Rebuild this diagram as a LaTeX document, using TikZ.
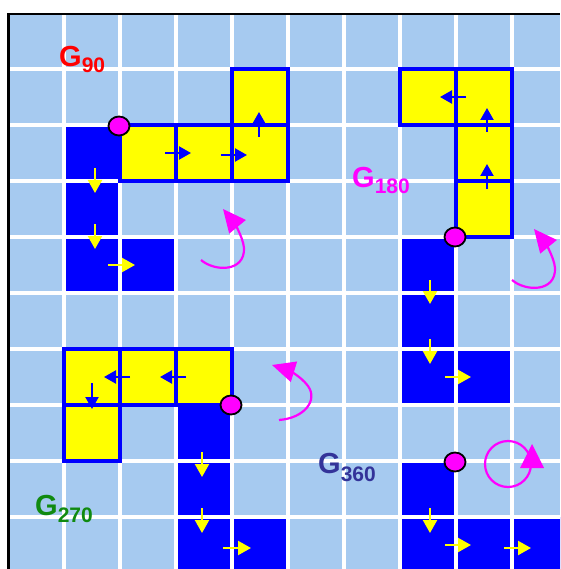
\documentclass[tikz,border=0pt]{standalone}
\usepackage{fontspec}
\setmainfont{Liberation Sans}
\usetikzlibrary{arrows.meta,shapes.geometric}
\definecolor{lightcell}{HTML}{A6CAF0}
\definecolor{cellblue}{HTML}{0000FF}
\definecolor{cellyellow}{HTML}{FFFF00}
\definecolor{mag}{HTML}{FF00FF}
\definecolor{gred}{HTML}{FF0000}
\definecolor{ggreen}{HTML}{108A10}
\definecolor{gslate}{HTML}{333399}
\tikzset{
  gridline/.style={draw=white, line width=3.2pt},
  ycell/.style={fill=cellyellow, draw=cellblue, line width=3.4pt},
  yarr/.style={draw=cellyellow, line width=2.2pt, -{Triangle[length=13pt,width=14pt]}},
  barr/.style={draw=cellblue, line width=2.2pt, -{Triangle[length=12pt,width=13pt]}},
  rotarr/.style={draw=mag, line width=2.2pt, -{Triangle[length=23pt,width=21pt]}},
  dot/.style={ellipse, fill=mag, draw=black, line width=1.8pt, minimum width=21pt, minimum height=19pt, inner sep=0pt},
  glabel/.style={anchor=base west, inner sep=0pt, font=\bfseries},
}
\newcommand{\Glab}[2]{{\fontsize{29}{29}\selectfont G}\raisebox{-#2pt}{\fontsize{21}{21}\selectfont #1}}
\begin{document}
\begin{tikzpicture}[x=1pt,y=-1pt]
\useasboundingbox (0,0) rectangle (560,569);
\begin{scope}
\clip (0,0) rectangle (560,569);
\fill[white] (0,0) rectangle (560,569);
\fill[lightcell] (8,13) rectangle (560,569);
% blue cells
\foreach \c/\r in {1/2,1/3,1/4,2/4, 7/4,7/5,7/6,8/6, 3/7,3/8,3/9,4/9, 7/8,7/9,8/9,9/9}
  \fill[cellblue] ({8+56*\c},{13+56*\r}) rectangle ++(56,56);
% grid lines
\foreach \k in {0,...,8} {
  \draw[gridline] ({64+56*\k},13) -- ({64+56*\k},569);
  \draw[gridline] (8,{69+56*\k}) -- (560,{69+56*\k});
}
% yellow cells
\foreach \c/\r in {2/2,3/2,4/2,4/1, 7/1,8/1,8/2,8/3, 1/6,2/6,3/6,1/7}
  \filldraw[ycell] ({8+56*\c},{13+56*\r}) rectangle ++(56,56);
% black frame
\draw[black, line width=2.8pt] (8.7,569) -- (8.7,14) -- (560,14);
\end{scope}

% yellow arrows (blue cells)
\coordinate (a1s) at (95,168);  \coordinate (a1e) at (95,193);
\coordinate (a2s) at (95,224);  \coordinate (a2e) at (95,249);
\coordinate (a3s) at (108,265); \coordinate (a3e) at (135,265);
\coordinate (a4s) at (430,280); \coordinate (a4e) at (430,304);
\coordinate (a5s) at (430,339); \coordinate (a5e) at (430,364);
\coordinate (a6s) at (445,377); \coordinate (a6e) at (471,377);
\coordinate (a7s) at (202,452); \coordinate (a7e) at (202,477);
\coordinate (a8s) at (202,508); \coordinate (a8e) at (202,533);
\coordinate (a9s) at (223,548); \coordinate (a9e) at (251,548);
\coordinate (a10s) at (430,508); \coordinate (a10e) at (430,533);
\coordinate (a11s) at (445,545); \coordinate (a11e) at (471,545);
\coordinate (a12s) at (504,548); \coordinate (a12e) at (531,548);
\foreach \i in {1,...,12} \draw[yarr] (a\i s) -- (a\i e);

% blue arrows (yellow cells)
\coordinate (b1s) at (165,153); \coordinate (b1e) at (191,153);
\coordinate (b2s) at (221,155); \coordinate (b2e) at (247,155);
\coordinate (b3s) at (259,137); \coordinate (b3e) at (259,112);
\coordinate (b4s) at (487,189); \coordinate (b4e) at (487,164);
\coordinate (b5s) at (487,132); \coordinate (b5e) at (487,108);
\coordinate (b6s) at (466,97);  \coordinate (b6e) at (440,97);
\coordinate (b7s) at (130,377); \coordinate (b7e) at (104,377);
\coordinate (b8s) at (186,377); \coordinate (b8e) at (160,377);
\coordinate (b9s) at (92,383);  \coordinate (b9e) at (92,409);
\foreach \i in {1,...,9} \draw[barr] (b\i s) -- (b\i e);

% pivot dots
\node[dot] (d90) at (119,126) {};
\node[dot] (d180) at (455,237) {};
\node[dot] (d270) at (231,405) {};
\node[dot] (d360) at (455,462) {};

% rotation arrows
\draw[rotarr] (201,260) .. controls (215,272) and (245,272) .. (244,248) .. controls (243,236) and (232,220) .. (223,209);
\begin{scope}[shift={(311,20)}]
\draw[rotarr] (201,260) .. controls (215,272) and (245,272) .. (244,248) .. controls (243,236) and (232,220) .. (223,209);
\end{scope}
\draw[rotarr] (279,420) .. controls (305,418) and (318,400) .. (308,386) .. controls (300,375) and (285,369) .. (272,365);
\draw[mag, line width=2.2pt] (508,464) circle[radius=23];
\fill[mag] (532,444) -- (544,468) -- (520,468) -- cycle;

% labels
\node[glabel, text=gred] (l90) at (59,67) {\Glab{90}{6}};
\node[glabel, text=mag] (l180) at (352,187) {\Glab{180}{6}};
\node[glabel, text=ggreen] (l270) at (35,515) {\Glab{270}{7}};
\node[glabel, text=gslate] (l360) at (318,473) {\Glab{360}{8}};
\end{tikzpicture}
\end{document}
